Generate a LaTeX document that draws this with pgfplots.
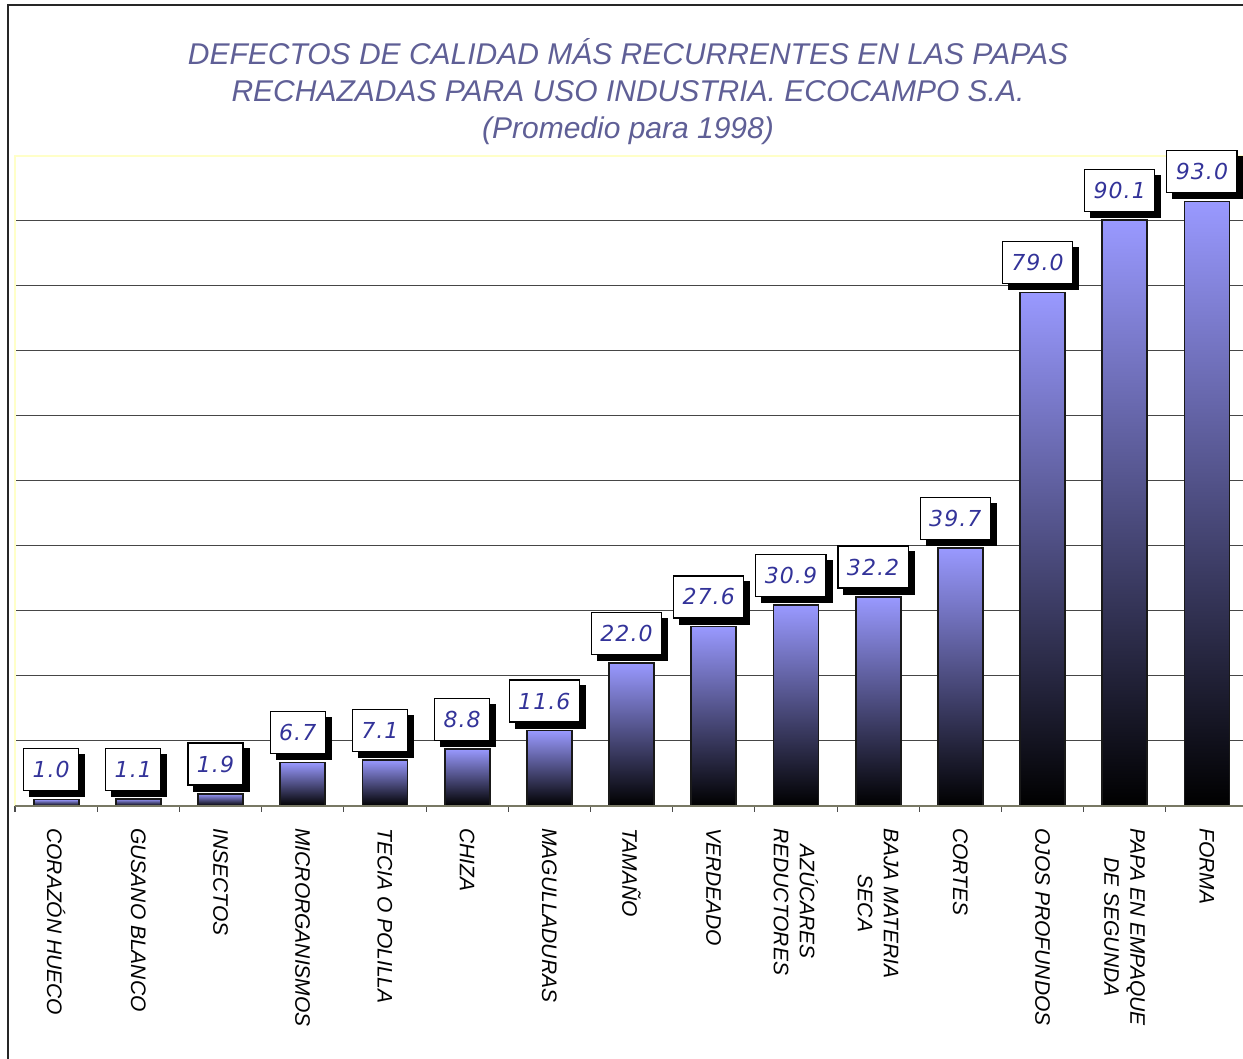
\documentclass[border=0pt]{standalone}
\usepackage{pgfplots}
\pgfplotsset{compat=1.18}
\usetikzlibrary{shadows}
\usepackage{fontspec}
\setmainfont{Liberation Sans}
\newfontfamily\lblfont{DejaVu Sans}[LetterSpace=5.0]
\definecolor{titlec}{RGB}{95,95,150}
\definecolor{lblc}{RGB}{51,51,153}
\definecolor{bartop}{RGB}{153,153,255}
\definecolor{barmid}{RGB}{115,115,185}
\definecolor{gridc}{RGB}{70,70,70}
\definecolor{framey}{RGB}{255,255,200}
\definecolor{basec}{RGB}{120,120,100}
\newcommand{\onebar}[2]{\addplot[bar shift=0pt, draw=black!90, line width=0.9pt, top color=bartop, middle color=barmid, bottom color=black] coordinates {(#1,#2)};}
\begin{document}
\begin{tikzpicture}
\useasboundingbox (0,0) rectangle (621.5pt,529.5pt);
\draw[line width=1pt, black!85] (4pt,-5pt) -- (4pt,526.75pt) -- (630pt,526.75pt);
\tikzset{ttl/.style={font=\itshape\fontsize{15}{17}\selectfont, text=titlec, anchor=base, inner sep=0pt}}
\node[ttl] at (314pt,497pt) {DEFECTOS DE CALIDAD MÁS RECURRENTES EN LAS PAPAS};
\node[ttl] at (314pt,478.5pt) {RECHAZADAS PARA USO INDUSTRIA. ECOCAMPO S.A.};
\node[ttl] at (314pt,460pt) {(Promedio para 1998)};
\begin{axis}[
  at={(7.5pt,126.5pt)}, anchor=south west, scale only axis,
  width=616.5pt, height=325pt,
  xmin=-0.5, xmax=14.5, ymin=0, ymax=100,
  ybar, bar width=22.5pt,
  axis x line*=bottom, axis y line*=left, axis line style={draw=none},
  xtick={0,...,14},
  xticklabels={{CORAZÓN HUECO},{GUSANO BLANCO},{INSECTOS},{MICRORGANISMOS},{TECIA O POLILLA},{CHIZA},{MAGULLADURAS},{TAMAÑO},{VERDEADO},{AZÚCARES\\REDUCTORES},{BAJA MATERIA\\SECA},{CORTES},{OJOS PROFUNDOS},{PAPA EN EMPAQUE\\DE SEGUNDA},{FORMA}},
  major tick length=0pt,
  minor xtick={-0.5,0.5,...,14.5}, minor tick length=3pt, tick align=outside,
  minor x tick style={draw=black!70, line width=0.5pt},
  ytick={10,20,...,90}, yticklabels={,,,,,,,,,}, ymajorgrids,
  grid style={gridc, line width=0.5pt},
  xticklabel style={rotate=-90, anchor=west, align=center, inner sep=0pt,
    font=\itshape\fontsize{10.5}{13}\selectfont},
  xticklabel shift=11pt,
  clip=false,
  nodes near coords={\pgfmathprintnumber[fixed,fixed zerofill,precision=1,assume math mode=true]{\pgfplotspointmeta}},
  every node near coord/.append style={draw=black, line width=0.6pt, fill=white,
    drop shadow={shadow xshift=3pt, shadow yshift=-3pt, top color=black, bottom color=black, middle color=black, fill=black, opacity=1},
    text=lblc, font=\lblfont\itshape\fontsize{11}{12}\selectfont,
    inner xsep=4.5pt, minimum height=21pt, anchor=south, yshift=4pt, xshift=-2.5pt},
]
\onebar{0}{1.0}
\onebar{1}{1.1}
\onebar{2}{1.9}
\onebar{3}{6.7}
\onebar{4}{7.1}
\onebar{5}{8.8}
\onebar{6}{11.6}
\onebar{7}{22.0}
\onebar{8}{27.6}
\onebar{9}{30.9}
\onebar{10}{32.2}
\onebar{11}{39.7}
\onebar{12}{79.0}
\onebar{13}{90.1}
\onebar{14}{93.0}
\draw[framey, line width=1pt] (rel axis cs:0,0) -- (rel axis cs:0,1) -- (rel axis cs:1,1);
\draw[basec, line width=0.7pt] (rel axis cs:0,0) -- (rel axis cs:1,0);
\end{axis}
\end{tikzpicture}
\end{document}
